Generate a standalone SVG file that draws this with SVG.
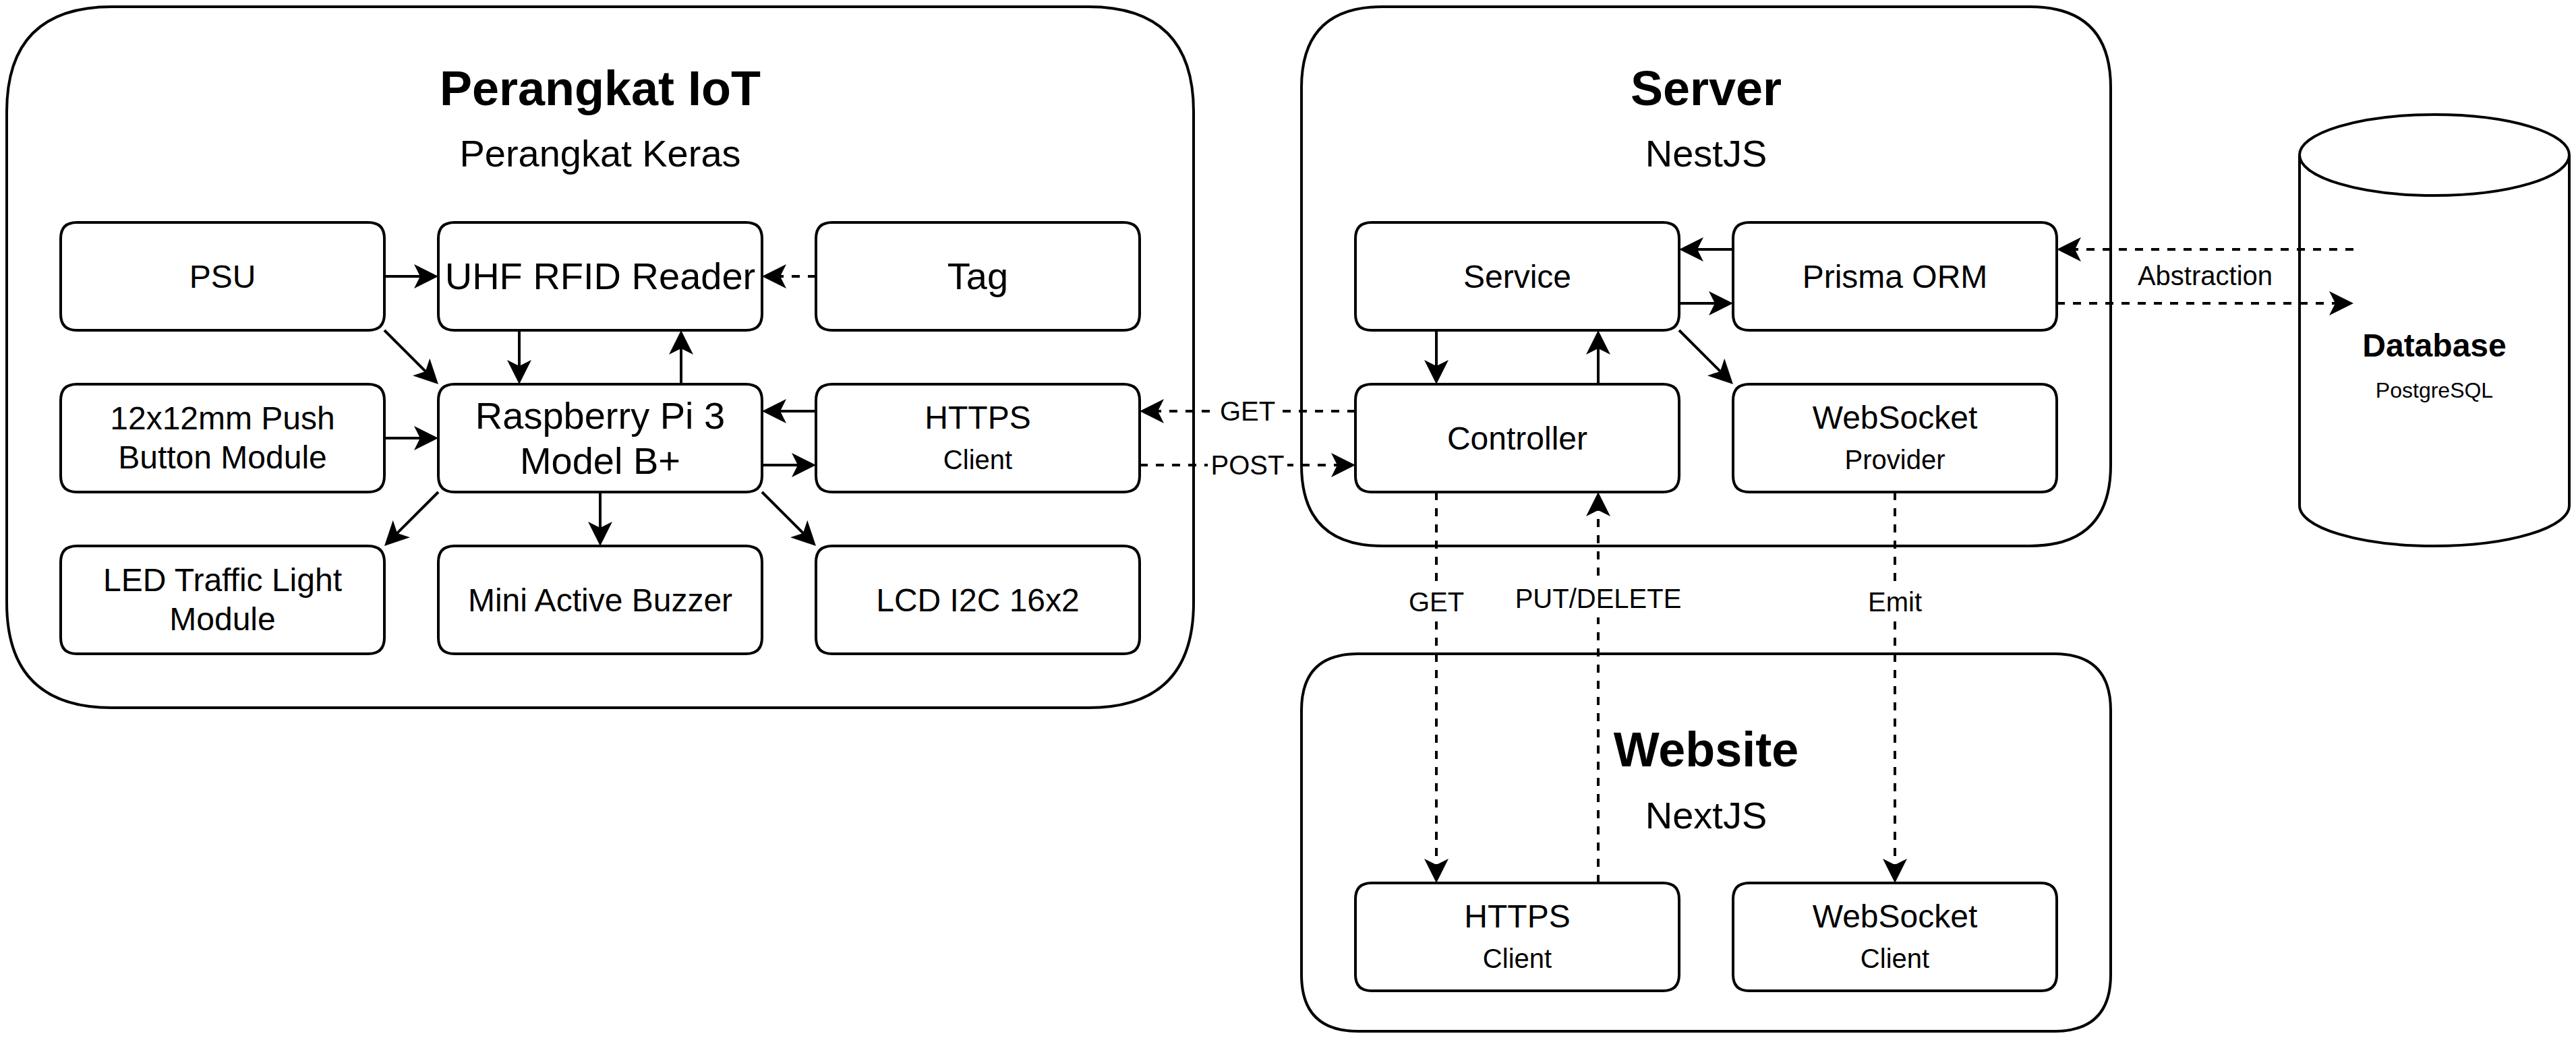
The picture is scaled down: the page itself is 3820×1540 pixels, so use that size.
<svg xmlns="http://www.w3.org/2000/svg" xmlns:xlink="http://www.w3.org/1999/xlink" width="3820" height="1540" viewBox="0 0 3820 1540">
<style>
.shp{fill:#fff;stroke:#000;stroke-width:4}
.ln{fill:none;stroke:#000;stroke-width:4;marker-end:url(#arr)}
.dash{stroke-dasharray:12 12}
text{font-family:"Liberation Sans",Arial,Helvetica,sans-serif;text-anchor:middle;fill:#000}
.t72{font-size:72px;font-weight:bold}
.t56{font-size:56px}
.t48{font-size:48px}
.b48{font-size:48px;font-weight:bold}
.t40{font-size:40px}
.t32{font-size:32px}
.lbg{fill:#fff;stroke:none}
</style>
<defs>
<marker id="arr" markerUnits="userSpaceOnUse" viewBox="0 0 36 36" markerWidth="36" markerHeight="36" refX="9" refY="18" orient="auto">
<path d="M0,0 L36,18 L0,36 L9,18 Z" fill="#000"/>
</marker>
<path id="bx" d="M24,0 H456 Q480,0 480,24 V136 Q480,160 456,160 H24 Q0,160 0,136 V24 Q0,0 24,0 Z"/>
</defs>
<rect width="3820" height="1540" fill="#fff"/>

<g id="iot-container">
<path class="shp" d="M166,10 H1614 Q1770,10 1770,166 V894 Q1770,1050 1614,1050 H166 Q10,1050 10,894 V166 Q10,10 166,10 Z"/>
<text class="t72" x="890" y="156">Perangkat IoT</text>
<text class="t56" x="890" y="247">Perangkat Keras</text>
</g>
<g id="server-container">
<path class="shp" d="M2050,10 H3010 Q3130,10 3130,130 V690 Q3130,810 3010,810 H2050 Q1930,810 1930,690 V130 Q1930,10 2050,10 Z"/>
<text class="t72" x="2530" y="156">Server</text>
<text class="t56" x="2530" y="247">NestJS</text>
</g>
<g id="website-container">
<path class="shp" d="M2014,970 H3046 Q3130,970 3130,1054 V1446 Q3130,1530 3046,1530 H2014 Q1930,1530 1930,1446 V1054 Q1930,970 2014,970 Z"/>
<text class="t72" x="2530" y="1137">Website</text>
<text class="t56" x="2530" y="1229">NextJS</text>
</g>
<g id="database">
<path class="shp" d="M3410,230 A200,60 0 0 1 3810,230 V750 A200,60 0 0 1 3410,750 Z"/>
<path class="shp" style="fill:none" d="M3410,230 A200,60 0 0 0 3810,230"/>
<text class="b48" x="3610" y="529">Database</text>
<text class="t32" x="3610" y="590">PostgreSQL</text>
</g>

<g id="psu"><use xlink:href="#bx" class="shp" x="90" y="330"/><text class="t48" x="330" y="427">PSU</text></g>
<g id="uhf-rfid-reader"><use xlink:href="#bx" class="shp" x="650" y="330"/><text class="t56" x="890" y="429">UHF RFID Reader</text></g>
<g id="tag"><use xlink:href="#bx" class="shp" x="1210" y="330"/><text class="t56" x="1450" y="429">Tag</text></g>
<g id="push-button"><use xlink:href="#bx" class="shp" x="90" y="570"/><text class="t48" x="330" y="637">12x12mm Push</text><text class="t48" x="330" y="695">Button Module</text></g>
<g id="raspberry-pi"><use xlink:href="#bx" class="shp" x="650" y="570"/><text class="t56" x="890" y="636">Raspberry Pi 3</text><text class="t56" x="890" y="703">Model B+</text></g>
<g id="https-client-iot"><use xlink:href="#bx" class="shp" x="1210" y="570"/><text class="t48" x="1450" y="636">HTTPS</text><text class="t40" x="1450" y="696">Client</text></g>
<g id="led-traffic-light"><use xlink:href="#bx" class="shp" x="90" y="810"/><text class="t48" x="330" y="877">LED Traffic Light</text><text class="t48" x="330" y="935">Module</text></g>
<g id="buzzer"><use xlink:href="#bx" class="shp" x="650" y="810"/><text class="t48" x="890" y="907">Mini Active Buzzer</text></g>
<g id="lcd"><use xlink:href="#bx" class="shp" x="1210" y="810"/><text class="t48" x="1450" y="907">LCD I2C 16x2</text></g>

<g id="service"><use xlink:href="#bx" class="shp" x="2010" y="330"/><text class="t48" x="2250" y="427">Service</text></g>
<g id="prisma-orm"><use xlink:href="#bx" class="shp" x="2570" y="330"/><text class="t48" x="2810" y="427">Prisma ORM</text></g>
<g id="controller"><use xlink:href="#bx" class="shp" x="2010" y="570"/><text class="t48" x="2250" y="667">Controller</text></g>
<g id="websocket-provider"><use xlink:href="#bx" class="shp" x="2570" y="570"/><text class="t48" x="2810" y="636">WebSocket</text><text class="t40" x="2810" y="696">Provider</text></g>

<g id="https-client-web"><use xlink:href="#bx" class="shp" x="2010" y="1310"/><text class="t48" x="2250" y="1376">HTTPS</text><text class="t40" x="2250" y="1436">Client</text></g>
<g id="websocket-client"><use xlink:href="#bx" class="shp" x="2570" y="1310"/><text class="t48" x="2810" y="1376">WebSocket</text><text class="t40" x="2810" y="1436">Client</text></g>

<g id="connectors">
<path class="ln" d="M570,410 L623,410"/>
<path class="ln" d="M570,490 L630.9,550.9"/>
<path class="ln" d="M770,490 L770,543"/>
<path class="ln" d="M1010,570 L1010,517"/>
<path class="ln" d="M570,650 L623,650"/>
<path class="ln" d="M1210,610 L1157,610"/>
<path class="ln" d="M1130,690 L1183,690"/>
<path class="ln" d="M650,730 L589.1,790.9"/>
<path class="ln" d="M890,730 L890,783"/>
<path class="ln" d="M1130,730 L1190.9,790.9"/>
<path class="ln" d="M2570,370 L2517,370"/>
<path class="ln" d="M2490,450 L2543,450"/>
<path class="ln" d="M2130,490 L2130,543"/>
<path class="ln" d="M2370,570 L2370,517"/>
<path class="ln" d="M2490,490 L2550.9,550.9"/>
<path class="ln dash" d="M1210,410 L1157,410"/>
<path class="ln dash" d="M2010,610 L1717,610"/>
<path class="ln dash" d="M1690,690 L1983,690"/>
<path class="ln dash" d="M2130,730 L2130,1283"/>
<path class="ln dash" d="M2370,1310 L2370,757"/>
<path class="ln dash" d="M2810,730 L2810,1283"/>
<path class="ln dash" d="M3490,370 L3077,370"/>
<path class="ln dash" d="M3050,450 L3463,450"/>
<rect class="lbg" x="1803" y="582" width="94" height="56"/>
<text class="t40" x="1850" y="624">GET</text>
<rect class="lbg" x="1791" y="662" width="118" height="56"/>
<text class="t40" x="1850" y="704">POST</text>
<rect class="lbg" x="2083" y="862" width="94" height="58"/>
<text class="t40" x="2130" y="907">GET</text>
<rect class="lbg" x="2240" y="858" width="260" height="58"/>
<text class="t40" x="2370" y="902">PUT/DELETE</text>
<rect class="lbg" x="2764" y="862" width="92" height="58"/>
<text class="t40" x="2810" y="907">Emit</text>
<text class="t40" x="3270" y="423">Abstraction</text>
</g>
</svg>
